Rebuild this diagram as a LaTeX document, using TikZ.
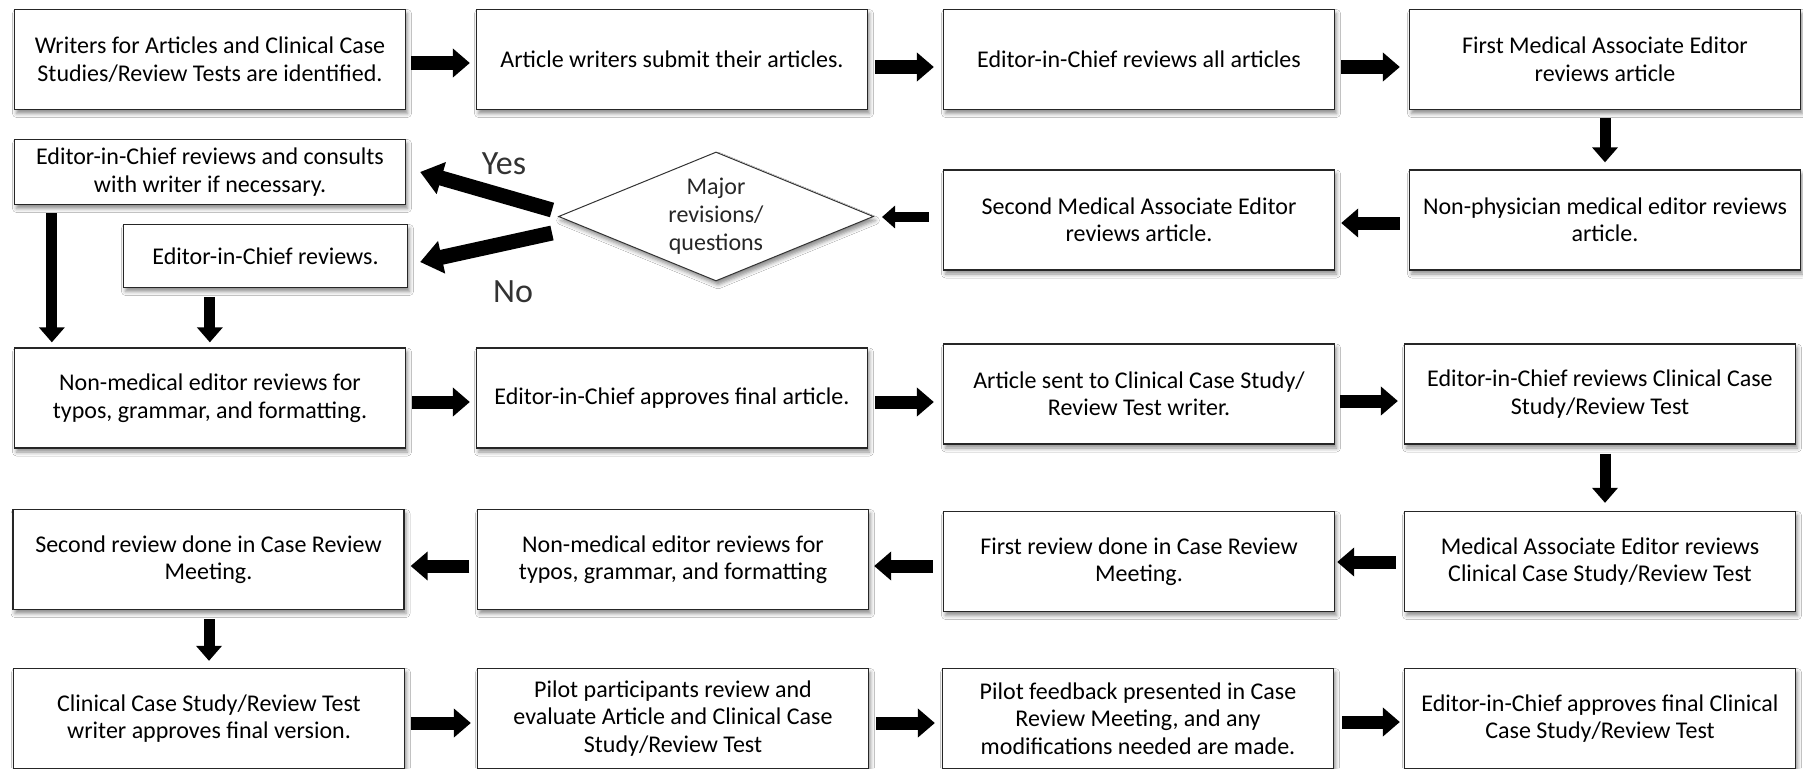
\documentclass[tikz,border=0pt]{standalone}
\usepackage{fontspec}
\setmainfont{Carlito}
\usetikzlibrary{arrows.meta,shapes.geometric,calc,shadows.blur}
\begin{document}
\begin{tikzpicture}[x=1pt,y=-1pt,
  shad/.style={blur shadow={shadow xshift=2pt,shadow yshift=-4pt,shadow blur radius=4pt,shadow opacity=45}},
  box/.style={shad,draw=black!85,line width=1.3pt,fill=white,minimum width=391pt,minimum height=100pt,
    align=center,inner sep=2pt,font=\fontsize{24}{27.5}\selectfont},
  dec/.style={shad,diamond,draw=black!80,line width=1pt,fill=white,aspect=2.44,inner sep=0pt,
    minimum width=315pt,minimum height=129pt,align=center,text=black!85,font=\fontsize{24}{28}\selectfont},
  lbl/.style={text=black!80,font=\fontsize{34}{40}\selectfont,inner sep=0pt},
  harrow/.style={line width=13pt,-{Triangle[length=17pt,width=28pt]}},
  varrow/.style={line width=11pt,-{Triangle[length=15pt,width=25pt]}},
  sarrow/.style={line width=10pt,-{Triangle[length=13pt,width=22pt]}},
  darrow/.style={line width=15pt,-{Triangle[length=22pt,width=32pt]}}]
\fill[white] (0,0) rectangle (1803,768);
\useasboundingbox (0,0) rectangle (1803,768);
% row 1
\node[box] (A1) at (210,59.5) {Writers for Articles and Clinical Case\\Studies/Review Tests are identified.};
\node[box] (A2) at (672,59.5) {Article writers submit their articles.};
\node[box] (A3) at (1139,59.5) {Editor-in-Chief reviews all articles};
\node[box] (A4) at (1605,59.5) {First Medical Associate Editor\\reviews article};
% row 2
\node[box] (B1) at (1605,220) {Non-physician medical editor reviews\\article.};
\node[box] (B2) at (1139,220) {Second Medical Associate Editor\\reviews article.};
\node[dec] (Q) at (716,216.5) {Major\\revisions/\\questions};
\node[box,minimum height=65pt] (C1) at (210,172) {Editor-in-Chief reviews and consults\\with writer if necessary.};
\node[box,minimum width=284pt,minimum height=63pt] (C2) at (265.5,256) {Editor-in-Chief reviews.};
% row 3
\node[box] (D1) at (210,398) {Non-medical editor reviews for\\typos, grammar, and formatting.};
\node[box] (D2) at (672,398) {Editor-in-Chief approves final article.};
\node[box] (D3) at (1139,394) {Article sent to Clinical Case Study/\\Review Test writer.};
\node[box] (D4) at (1600,394) {Editor-in-Chief reviews Clinical Case\\Study/Review Test};
% row 4
\node[box] (E1) at (208.5,559.5) {Second review done in Case Review\\Meeting.};
\node[box] (E2) at (673,559.5) {Non-medical editor reviews for\\typos, grammar, and formatting};
\node[box] (E3) at (1139,561.5) {First review done in Case Review\\Meeting.};
\node[box] (E4) at (1600,561.5) {Medical Associate Editor reviews\\Clinical Case Study/Review Test};
% row 5
\node[box] (F1) at (209,718.5) {Clinical Case Study/Review Test\\writer approves final version.};
\node[box] (F2) at (673,718.5) {Pilot participants review and\\evaluate Article and Clinical Case\\Study/Review Test};
\node[box] (F3) at (1138,718.5) {Pilot feedback presented in Case\\Review Meeting, and any\\modifications needed are made.};
\node[box] (F4) at (1600,718.5) {Editor-in-Chief approves final Clinical\\Case Study/Review Test};
% labels
\node[lbl] (yes) at (504,164) {Yes};
\node[lbl] (no) at (513,292) {No};
% arrows row 1
\draw[harrow] ($(A1.east)+(5,3.5)$) -- ($(A2.west)+(-6,3.5)$);
\draw[harrow] ($(A2.east)+(7,7.5)$) -- ($(A3.west)+(-9,7.5)$);
\draw[harrow] ($(A3.east)+(6,7.5)$) -- ($(A4.west)+(-9,7.5)$);
\draw[varrow] ($(A4.south)+(0,8)$) -- ($(B1.north)+(0,-7)$);
% row 2
\draw[harrow] ($(B1.west)+(-9,3)$) -- ($(B2.east)+(6,3)$);
\draw[sarrow] ($(B2.west)+(-14,-3)$) -- ($(Q.east)+(8,0.5)$);
\draw[darrow] ($(Q.west)+(-6,-6.5)$) -- ($(C1.east)+(14,0)$);
\draw[darrow] ($(Q.west)+(-6,16.5)$) -- ($(C2.east)+(12,6)$);
\draw[varrow] ($(C1.south west)+(38,8)$) -- ($(D1.north west)+(38,-5)$);
\draw[varrow] ($(C2.south west)+(87,9)$) -- ($(D1.north west)+(196,-5)$);
% row 3
\draw[harrow] ($(D1.east)+(6,4)$) -- ($(D2.west)+(-6,4)$);
\draw[harrow] ($(D2.east)+(7,4)$) -- ($(D3.west)+(-9,8)$);
\draw[harrow] ($(D3.east)+(5,7)$) -- ($(D4.west)+(-6,7)$);
\draw[varrow] ($(D4.south)+(5,9)$) -- ($(E4.north)+(5,-8)$);
% row 4
\draw[harrow] ($(E4.west)+(-8,0.5)$) -- ($(E3.east)+(2,0.5)$);
\draw[harrow] ($(E3.west)+(-10,4.5)$) -- ($(E2.east)+(5,6.5)$);
\draw[harrow] ($(E2.west)+(-7.5,6.5)$) -- ($(E1.east)+(6,6.5)$);
\draw[varrow] ($(E1.south)+(0.5,9)$) -- ($(F1.north)+(0,-7)$);
% row 5
\draw[harrow] ($(F1.east)+(6,4.5)$) -- ($(F2.west)+(-6,4.5)$);
\draw[harrow] ($(F2.east)+(7,4.5)$) -- ($(F3.west)+(-7,4.5)$);
\draw[harrow] ($(F3.east)+(8,3.5)$) -- ($(F4.west)+(-4,3.5)$);
\end{tikzpicture}
\end{document}
